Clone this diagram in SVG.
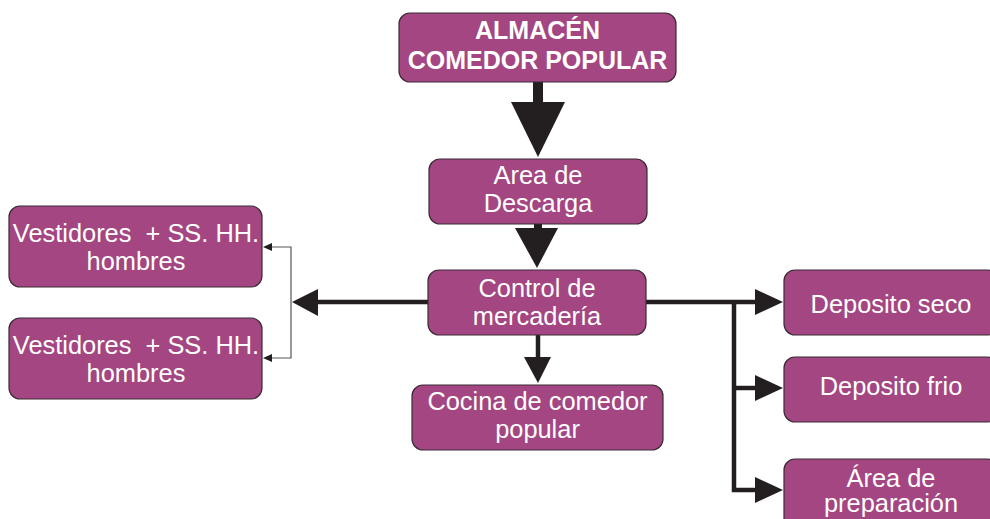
<svg xmlns="http://www.w3.org/2000/svg" width="990" height="519" viewBox="0 0 990 519">
<style>
.box{fill:#A34682;stroke:#3b2a36;stroke-width:1.2}
.t{font-family:"Liberation Sans",Arial,sans-serif;font-size:25.4px;fill:#ffffff;text-anchor:middle}
.b{font-weight:bold;font-size:25px}
.thick{stroke:#231f20;stroke-width:4.5;fill:none}
.thin{stroke:#555555;stroke-width:1.2;fill:none}
.head{fill:#231f20}
</style>
<rect width="990" height="519" fill="#ffffff"/>
<g id="connectors">
  <rect x="533" y="82" width="10" height="21" class="head"/>
  <polygon points="511,102 565,102 538,157" class="head"/>
  <rect x="534" y="224" width="8" height="5" class="head"/>
  <polygon points="515,228 558,228 537,268" class="head"/>
  <line x1="538" y1="335" x2="538" y2="358" class="thick"/>
  <polygon points="524,357 551,357 538,383" class="head"/>
  <line x1="428" y1="302" x2="316" y2="302" class="thick"/>
  <polygon points="292,302 318,289 318,316" class="head"/>
  <polyline points="272,247 291,247 291,358 272,358" class="thin"/>
  <polygon points="263,247 272,243 272,251" class="head"/>
  <polygon points="263,358 272,354 272,362" class="head"/>
  <line x1="646" y1="302" x2="757" y2="302" class="thick"/>
  <polyline points="734,302 734,490 757,490" class="thick"/>
  <line x1="734" y1="388" x2="757" y2="388" class="thick"/>
  <polygon points="755,289 783,302 755,315" class="head"/>
  <polygon points="755,375 783,388 755,401" class="head"/>
  <polygon points="755,477 783,490 755,503" class="head"/>
</g>
<g id="almacen">
  <rect x="399" y="13" width="277" height="69" rx="11" class="box"/>
  <text x="537.5" y="39" class="t b">ALMACÉN</text>
  <text x="537.5" y="69" class="t b">COMEDOR POPULAR</text>
</g>
<g id="descarga">
  <rect x="429" y="159" width="218" height="65" rx="11" class="box"/>
  <text x="538" y="184" class="t">Area de</text>
  <text x="538" y="212" class="t">Descarga</text>
</g>
<g id="control">
  <rect x="428" y="270" width="218" height="65" rx="11" class="box"/>
  <text x="537" y="297" class="t">Control de</text>
  <text x="537" y="325" class="t">mercadería</text>
</g>
<g id="cocina">
  <rect x="412" y="385" width="251" height="65" rx="11" class="box"/>
  <text x="537.5" y="410" class="t">Cocina de comedor</text>
  <text x="537.5" y="438" class="t">popular</text>
</g>
<g id="vestidores1">
  <rect x="9" y="206" width="253" height="81" rx="11" class="box"/>
  <text x="136" y="242" class="t" xml:space="preserve">Vestidores  + SS. HH.</text>
  <text x="136" y="270" class="t">hombres</text>
</g>
<g id="vestidores2">
  <rect x="9" y="318" width="253" height="81" rx="11" class="box"/>
  <text x="136" y="354" class="t" xml:space="preserve">Vestidores  + SS. HH.</text>
  <text x="136" y="382" class="t">hombres</text>
</g>
<g id="seco">
  <rect x="784" y="270" width="214" height="65" rx="11" class="box"/>
  <text x="891" y="313" class="t">Deposito seco</text>
</g>
<g id="frio">
  <rect x="784" y="357" width="214" height="65" rx="11" class="box"/>
  <text x="891" y="395" class="t">Deposito frio</text>
</g>
<g id="preparacion">
  <rect x="784" y="459" width="214" height="70" rx="11" class="box"/>
  <text x="891" y="487" class="t">Área de</text>
  <text x="891" y="512" class="t">preparación</text>
</g>
</svg>
